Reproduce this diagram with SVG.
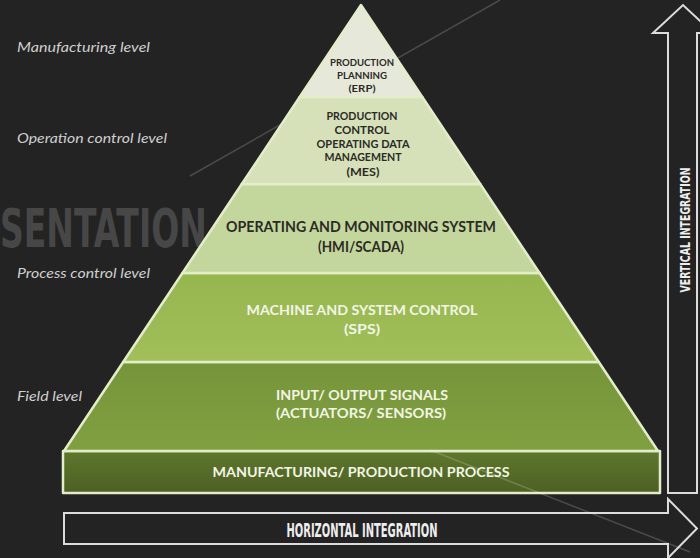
<svg xmlns="http://www.w3.org/2000/svg" width="700" height="558" viewBox="0 0 700 558">
<defs>
<linearGradient id="gSlab" x1="0" y1="0" x2="0" y2="1"><stop offset="0" stop-color="#5e772c"/><stop offset="1" stop-color="#4c6024"/></linearGradient>
<linearGradient id="gIO" x1="0" y1="0" x2="0" y2="1"><stop offset="0" stop-color="#76953a"/><stop offset="1" stop-color="#80a040"/></linearGradient>
<linearGradient id="gSPS" x1="0" y1="0" x2="0" y2="1"><stop offset="0" stop-color="#96b64e"/><stop offset="1" stop-color="#a2bf5a"/></linearGradient>
<style>
.bg{fill:#232323}
.layer{stroke:#e4edc9;stroke-width:2.5;stroke-linejoin:round}
.lbl{font-family:Lato,"Open Sans","Liberation Sans",sans-serif;font-weight:bold;text-anchor:middle}
.dark{fill:#2b2b26}
.light{fill:#f2f5e6}
.side{font-family:Lato,"Open Sans","Liberation Sans",sans-serif;font-style:italic;font-size:12.5px;fill:#cfcfcf}
.arrow{fill:none;stroke:#dcdcdc;stroke-width:2}
.cond{font-family:"DejaVu Sans Condensed","DejaVu Sans",sans-serif;font-weight:bold;fill:#ededed;text-anchor:middle}
.wm{stroke:#ffffff;stroke-opacity:0.18;stroke-width:1.5}
</style>
</defs>
<rect class="bg" x="0" y="0" width="700" height="558"/>
<text transform="scale(0.68,1)" x="0" y="247" font-family="'DejaVu Sans Condensed','DejaVu Sans',sans-serif" font-weight="bold" font-size="54" fill="#474747">SENTATION</text>
<line class="wm" x1="190" y1="176" x2="500" y2="0"/>
<g id="side-labels">
<text class="side" x="17" y="52" textLength="133" lengthAdjust="spacingAndGlyphs">Manufacturing level</text>
<text class="side" x="17" y="143" textLength="150" lengthAdjust="spacingAndGlyphs">Operation control level</text>
<text class="side" x="17" y="278" textLength="133" lengthAdjust="spacingAndGlyphs">Process control level</text>
<text class="side" x="17" y="401" textLength="65" lengthAdjust="spacingAndGlyphs">Field level</text>
</g>
<g id="slab">
<rect class="layer" x="63" y="451" width="597" height="42" fill="url(#gSlab)"/>
<text class="lbl light" x="361" y="477" font-size="14" textLength="297" lengthAdjust="spacingAndGlyphs">MANUFACTURING/ PRODUCTION PROCESS</text>
</g>
<g id="io">
<polygon class="layer" points="123.2,362 598.8,362 658,451 64,451" fill="url(#gIO)"/>
<text class="lbl light" x="362" y="400" font-size="14" textLength="172" lengthAdjust="spacingAndGlyphs">INPUT/ OUTPUT SIGNALS</text>
<text class="lbl light" x="361" y="418" font-size="14" textLength="170" lengthAdjust="spacingAndGlyphs">(ACTUATORS/ SENSORS)</text>
</g>
<g id="sps">
<polygon class="layer" points="182.5,273 539.5,273 598.8,362 123.2,362" fill="url(#gSPS)"/>
<text class="lbl light" x="362" y="315" font-size="14" textLength="231" lengthAdjust="spacingAndGlyphs">MACHINE AND SYSTEM CONTROL</text>
<text class="lbl light" x="362" y="334" font-size="14" textLength="36" lengthAdjust="spacingAndGlyphs">(SPS)</text>
</g>
<g id="hmi">
<polygon class="layer" points="241.8,184 480.2,184 539.5,273 182.5,273" fill="#c3d69c"/>
<text class="lbl dark" x="361" y="232" font-size="15" textLength="270" lengthAdjust="spacingAndGlyphs">OPERATING AND MONITORING SYSTEM</text>
<text class="lbl dark" x="361" y="252" font-size="15" textLength="86" lengthAdjust="spacingAndGlyphs">(HMI/SCADA)</text>
</g>
<g id="mes">
<polygon class="layer" points="299.7,97 422.3,97 480.2,184 241.8,184" fill="#d6e0b9"/>
<text class="lbl dark" x="362" y="120" font-size="11.5" textLength="71" lengthAdjust="spacingAndGlyphs">PRODUCTION</text>
<text class="lbl dark" x="362" y="134" font-size="11.5" textLength="55" lengthAdjust="spacingAndGlyphs">CONTROL</text>
<text class="lbl dark" x="363" y="148" font-size="11.5" textLength="93" lengthAdjust="spacingAndGlyphs">OPERATING DATA</text>
<text class="lbl dark" x="363" y="161" font-size="11.5" textLength="77" lengthAdjust="spacingAndGlyphs">MANAGEMENT</text>
<text class="lbl dark" x="363" y="176" font-size="11.5" textLength="33" lengthAdjust="spacingAndGlyphs">(MES)</text>
</g>
<g id="erp">
<polygon class="layer" points="361,5 422.3,97 299.7,97" fill="#e6e9da"/>
<text class="lbl dark" x="362" y="66" font-size="9" textLength="64" lengthAdjust="spacingAndGlyphs">PRODUCTION</text>
<text class="lbl dark" x="362" y="79" font-size="9" textLength="50" lengthAdjust="spacingAndGlyphs">PLANNING</text>
<text class="lbl dark" x="362" y="92" font-size="9" textLength="27" lengthAdjust="spacingAndGlyphs">(ERP)</text>
</g>
<g id="connectors">
<path id="vertical-integration" class="arrow" d="M668,493 L668,33 L653,33 L683,5 L713,33 L697,33 L697,493 Z"/>
<path id="horizontal-integration" class="arrow" d="M64,513 L668,513 L668,499 L697,528.5 L668,558 L668,544 L64,544 Z"/>
</g>
<text class="cond" x="362" y="537" font-size="19" textLength="151" lengthAdjust="spacingAndGlyphs">HORIZONTAL INTEGRATION</text>
<text class="cond" transform="translate(690,230) rotate(-90)" x="0" y="0" font-size="13.5" textLength="125" lengthAdjust="spacingAndGlyphs">VERTICAL INTEGRATION</text>
<line class="wm" x1="430" y1="450" x2="690" y2="552"/>
</svg>
